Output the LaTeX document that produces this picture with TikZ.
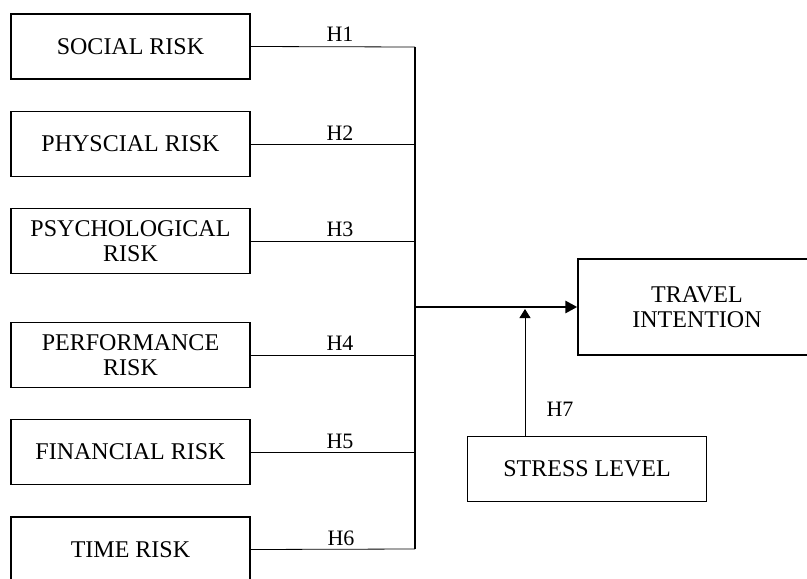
\documentclass[tikz,border=0pt]{standalone}
\usepackage{fontspec}
\setmainfont{Liberation Serif}
\usetikzlibrary{arrows.meta}
\begin{document}
\begin{tikzpicture}[x=1pt,y=-1pt,
  box/.style={draw, line width=1.4pt, minimum width=239pt, minimum height=65pt, inner sep=0pt, align=center,
    font=\fontsize{24}{25}\selectfont},
  hlab/.style={font=\fontsize{22}{24}\selectfont, inner sep=0pt},
  conn/.style={line width=0.8pt},
  mainarr/.style={line width=2.8pt, -{Triangle[length=12pt,width=12pt]}},
  modarr/.style={line width=0.8pt, -{Triangle[length=9pt,width=11pt]}}]
\useasboundingbox (0,0) rectangle (807,579);
\clip (0,0) rectangle (807,579);
\fill[white] (0,0) rectangle (807,579);

\node[box] (s1) at (130.5,46.5) {SOCIAL RISK};
\node[box] (s2) at (130.5,144) {PHYSCIAL RISK};
\node[box] (s3) at (130.5,241) {PSYCHOLOGICAL\\RISK};
\node[box] (s4) at (130.5,355) {PERFORMANCE\\RISK};
\node[box] (s5) at (130.5,452) {FINANCIAL RISK};
\node[box] (s6) at (130.5,549.5) {TIME RISK};
\node[box, minimum width=238pt, minimum height=96pt] (ti) at (697,307) {TRAVEL\\INTENTION};
\node[box] (sl) at (587,469) {STRESS LEVEL};

\coordinate (j1) at (415,47);
\coordinate (j2) at (415,144);
\coordinate (j3) at (415,241);
\coordinate (j4) at (415,355);
\coordinate (j5) at (415,452);
\coordinate (j6) at (415,549);
\coordinate (m) at (415,307);
\coordinate (m2) at (525,309);

\draw[conn] (s1.east) -- (j1);
\draw[conn] (s2.east) -- (j2);
\draw[conn] (s3.east) -- (j3);
\draw[conn] (s4.east) -- (j4);
\draw[conn] (s5.east) -- (j5);
\draw[conn] (s6.east) -- (j6);
\draw[line width=1.1pt] (j1) -- (j6);
\draw[mainarr] (m) -- (ti.west);
\draw[modarr] (sl.north -| m2) -- (m2);

\node[hlab] (h1) at (340,34) {H1};
\node[hlab] (h2) at (340,133) {H2};
\node[hlab] (h3) at (340,229) {H3};
\node[hlab] (h4) at (340,343) {H4};
\node[hlab] (h5) at (340,441) {H5};
\node[hlab] (h6) at (341,538) {H6};
\node[hlab] (h7) at (560,409) {H7};
\end{tikzpicture}
\end{document}
